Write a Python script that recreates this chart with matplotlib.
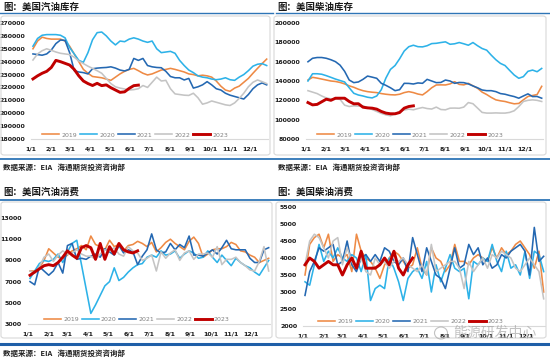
import numpy as np
import matplotlib
matplotlib.use("Agg")
import matplotlib.pyplot as plt
from matplotlib.patches import FancyBboxPatch, Ellipse
from matplotlib.lines import Line2D

# ---------------- data ----------------
years = ["2019", "2020", "2021", "2022", "2023"]
colors = ["#EE8A45", "#2DB2E8", "#2468B2", "#C4C4C4", "#C00000"]
month_days = [0, 31, 59, 90, 120, 151, 181, 212, 243, 273, 304, 334]
month_labels = ["1/1", "2/1", "3/1", "4/1", "5/1", "6/1", "7/1", "8/1", "9/1", "10/1", "11/1", "12/1"]

# US gasoline inventory
gas_inv_2019 = [250000, 256000, 259000, 258000, 257500, 257500, 257500, 256000, 252000, 246000, 240000, 234000, 231000,
                228500, 228000, 227500, 226500, 225500, 228000, 230500, 232500, 234000, 234800, 233000, 231000, 229700,
                230500, 232000, 233500, 234000, 234800, 234000, 233000, 232000, 230500, 230000, 229000, 229500, 229000,
                228000, 225000, 221000, 218000, 217000, 219500, 221000, 224000, 227000, 231000, 234800, 238500, 242000]
gas_inv_2020 = [252000, 258000, 260500, 261000, 261000, 261000, 260500, 258500, 251000, 246000, 241000, 239500, 247000,
                257000, 262500, 263000, 260000, 256000, 253000, 256000, 255500, 257500, 258500, 257500, 256000, 255000,
                256000, 250000, 247000, 247500, 248000, 246500, 241000, 237000, 233500, 231500, 229000, 228000, 227500,
                226500, 226000, 226500, 227500, 226000, 225500, 228000, 230000, 233000, 236500, 238000, 238500, 237000]
gas_inv_2021 = [246000, 245500, 245000, 246000, 249000, 254000, 256800, 256500, 247000, 233000, 232000, 231500, 230500,
                234500, 235000, 235300, 235500, 236000, 235000, 233500, 232800, 234000, 242500, 241000, 242500, 237000,
                236000, 235500, 235300, 232500, 228500, 227500, 227500, 225800, 227000, 219500, 220500, 222000, 224500,
                222000, 219000, 218000, 215500, 214000, 213000, 212000, 211000, 214500, 219000, 222000, 223500, 222000]
gas_inv_2022 = [241300, 246000, 248500, 250000, 248800, 247500, 246500, 246000, 245500, 243500, 240500, 238500, 236500,
                234800, 233000, 231000, 227000, 223000, 220500, 219500, 218800, 218000, 218300, 219000, 221500, 220000,
                224000, 228000, 225000, 225500, 219000, 215000, 214500, 214000, 213800, 215500, 212000, 207000, 208000,
                209500, 208500, 207500, 206500, 206000, 208000, 211500, 215500, 220500, 224000, 225800, 224500, 223000]
gas_inv_2023 = [226600, 229000, 231000, 232500, 235500, 241000, 240000, 238700, 237400, 234000, 229000, 225000, 223000,
                221500, 223200, 221400, 222000, 219800, 218000, 216200, 216600, 219300, 221400, 221800]

# US diesel inventory
dsl_inv_2019 = [141000, 143800, 143000, 142000, 141000, 140000, 139500, 138500, 137000, 135000, 133500, 131500, 130000,
                129000, 128400, 128000, 127000, 126300, 125800, 125600, 126300, 128000, 129000, 128000, 126500, 125600,
                129000, 133000, 135900, 136000, 135900, 137000, 139300, 136500, 136000, 137600, 135000, 132500, 128500,
                126000, 123000, 120500, 119500, 118800, 117500, 116400, 116800, 120500, 124000, 125000, 126000, 134500]
dsl_inv_2020 = [140000, 147500, 147500, 147000, 145500, 143800, 142000, 140500, 139000, 133000, 127300, 125500, 124500,
                123200, 122500, 124500, 131000, 143000, 152000, 156000, 163000, 171000, 175500, 177000, 175500, 175300,
                176500, 178700, 179000, 179800, 180500, 178000, 178500, 179800, 178500, 177000, 179800, 176500, 173600,
                171900, 166700, 162000, 158200, 156000, 151000, 146200, 142800, 144500, 150000, 151300, 149600, 153000]
dsl_inv_2021 = [159900, 163500, 164300, 164300, 163500, 162000, 160000, 156400, 150000, 141000, 138300, 139000, 141700,
                145100, 144000, 142800, 137600, 135500, 133000, 130000, 131000, 137600, 137500, 136900, 138000, 137600,
                141700, 140000, 138300, 138500, 141000, 140000, 137600, 138500, 138300, 137000, 134900, 133000, 130700,
                130000, 130000, 129000, 127000, 126300, 125000, 123900, 122200, 124500, 126700, 123900, 124000, 122200]
dsl_inv_2022 = [130000, 128500, 127000, 124500, 122500, 121500, 121500, 121000, 115000, 113600, 114300, 114000, 114300,
                112500, 110500, 108500, 106500, 105000, 104000, 106000, 108500, 110000, 110900, 110200, 111500, 112600,
                111500, 111000, 113000, 110500, 110200, 111900, 112000, 111800, 113000, 117700, 116500, 112000, 107500,
                106800, 106800, 107000, 106800, 106800, 107500, 109200, 113500, 118800, 120000, 120500, 120000, 118800]
dsl_inv_2023 = [117700, 115300, 115800, 118500, 121200, 120000, 122200, 122200, 122200, 118800, 116400, 116500, 112900,
                112200, 111900, 110900, 108500, 106800, 106100, 106100, 107400, 111900, 113600, 114300]

# US gasoline consumption
gas_con_2019 = [8000, 8000, 8300, 9000, 10100, 9700, 9300, 9200, 9500, 9900, 10100, 10400, 10000, 11300, 10500, 10300,
                10000, 10900, 10300, 10500, 9900, 10400, 10500, 10800, 10600, 10300, 10700, 9800, 10200, 10700, 11000,
                10600, 10300, 10000, 10800, 11200, 10600, 9300, 9600, 10000, 10100, 10100, 10300, 10700, 10500, 9900,
                9800, 9500, 9300, 8800, 9000, 9200]
gas_con_2020 = [7300, 8000, 8700, 9000, 8900, 9100, 9600, 8800, 9800, 10600, 10900, 8600, 6300, 4000, 4800, 5700, 6600,
                7000, 8300, 7100, 7400, 7900, 8300, 8600, 8700, 9300, 9500, 9300, 9900, 9500, 9600, 9900, 9200, 9600,
                9900, 9700, 9200, 9300, 9900, 9300, 8800, 9500, 9000, 8500, 9200, 8800, 8500, 8300, 7900, 7600, 8300,
                9000]
gas_con_2021 = [7000, 6700, 8400, 8000, 7600, 8000, 8800, 7800, 10400, 10600, 9100, 9200, 9100, 9400, 9600, 9300, 10100,
                9800, 9500, 10400, 9700, 10000, 9800, 8600, 9400, 10000, 11500, 10000, 9700, 9800, 10600, 10000, 10500,
                10200, 11300, 9500, 9500, 9400, 9700, 10000, 9600, 10200, 10900, 10100, 10000, 10000, 10000, 9200,
                8800, 8800, 10000, 10200]
gas_con_2022 = [8000, 7800, 8400, 9300, 9600, 8900, 9500, 9900, 9600, 9700, 10000, 9600, 9400, 9400, 9100, 9600, 10000,
                9900, 10200, 9600, 9400, 10300, 9900, 9700, 9000, 9200, 9500, 8000, 9800, 9200, 9700, 10000, 9000,
                9700, 9900, 9100, 9600, 9600, 9700, 9300, 10300, 8600, 9100, 9100, 9300, 8800, 8500, 8100, 8000, 8900,
                10300, 8000]
gas_con_2023 = [7600, 7900, 8200, 8500, 8600, 8500, 8800, 9300, 9900, 9500, 9200, 10200, 10400, 10200, 9100, 10600, 9100,
                10300, 9600, 10600, 10000, 9800, 9700, 9900]

# US diesel consumption
dsl_con_2019 = [3500, 4400, 4600, 4700, 4300, 4700, 3900, 4100, 4000, 4100, 3600, 4700, 4200, 4000, 3900, 3700, 3400,
                3800, 4000, 4200, 4100, 3900, 3700, 3800, 4300, 3700, 3500, 4300, 4000, 3900, 3600, 3800, 4400, 3900,
                3900, 3800, 4000, 4100, 4000, 3900, 4300, 4000, 4300, 4100, 4200, 4400, 4500, 4300, 4100, 3700, 4200,
                3000]
dsl_con_2020 = [3300, 3200, 3800, 4400, 3900, 4200, 4000, 4300, 4000, 3900, 4100, 4000, 3600, 4100, 2750, 3100, 3200,
                3100, 4000, 3700, 3300, 2750, 3400, 3600, 3700, 3400, 3900, 3000, 3800, 3300, 3700, 4100, 3700, 3600,
                3700, 2800, 3900, 3800, 4000, 3900, 4400, 3900, 3600, 4200, 3700, 3800, 3500, 4200, 3400, 4200, 4100,
                3600]
dsl_con_2021 = [2900, 3600, 3900, 4300, 4200, 4300, 4400, 3800, 3900, 4500, 3800, 3600, 4000, 4100, 3900, 4100, 3900,
                4300, 4200, 3900, 3800, 4000, 3600, 4600, 4100, 3600, 4300, 3900, 3500, 3400, 3100, 3700, 4300, 3700,
                3800, 4400, 4100, 4300, 3800, 4000, 3700, 3800, 4100, 4000, 4200, 4300, 4400, 4200, 3500, 4900, 3900,
                4050]
dsl_con_2022 = [3800, 4500, 4700, 4600, 4300, 4000, 4500, 4600, 3800, 4300, 3900, 3700, 4000, 3600, 3500, 4000, 3800,
                3900, 3700, 3900, 3900, 4000, 3800, 3700, 3600, 3800, 3500, 4400, 3600, 3700, 3800, 3900, 3900, 3700,
                3100, 3900, 3600, 3800, 4000, 3700, 4100, 4000, 4200, 4100, 4000, 3700, 3600, 3800, 4000, 3800, 3600,
                2800]
dsl_con_2023 = [3800, 4000, 3900, 3700, 3800, 3900, 3800, 3800, 3500, 3800, 4000, 3700, 4200, 3700, 3700, 3700, 3800,
                4000, 3800, 4200, 3700, 3500, 3800, 4000]

panels = [
    dict(title="图：美国汽油库存", series=[gas_inv_2019, gas_inv_2020, gas_inv_2021, gas_inv_2022, gas_inv_2023],
         ylim=(180000, 270000), yticks=list(range(180000, 270001, 10000)),
         box=(31, 23, 237, 116), legx=0.44, legy=0.035),
    dict(title="图：美国柴油库存", series=[dsl_inv_2019, dsl_inv_2020, dsl_inv_2021, dsl_inv_2022, dsl_inv_2023],
         ylim=(80000, 200000), yticks=list(range(80000, 200001, 20000)),
         box=(306, 23, 237, 116), legx=0.44, legy=0.035),
    dict(title="图：美国汽油消费", series=[gas_con_2019, gas_con_2020, gas_con_2021, gas_con_2022, gas_con_2023],
         ylim=(3000, 13000), yticks=list(range(3000, 13001, 2000)),
         box=(28, 218, 242, 106), legx=0.45, legy=0.047),
    dict(title="图：美国柴油消费", series=[dsl_con_2019, dsl_con_2020, dsl_con_2021, dsl_con_2022, dsl_con_2023],
         ylim=(2000, 5500), yticks=list(range(2000, 5501, 500)),
         box=(303, 207, 242, 119), legx=0.446, legy=0.042),
]

W, H = 550, 359
fig = plt.figure(figsize=(W / 100, H / 100), dpi=100)
fig.patch.set_facecolor("white")
CJK = ["Noto Sans CJK SC", "DejaVu Sans"]

def fx(x):
    return x / W

def fy(y):
    return 1 - y / H

# decorations: grey rounded boxes
for (x0, y0, x1, y1) in [(1, 16, 270, 155), (274, 16, 546, 155), (1, 202, 272, 338), (276, 202, 546, 338)]:
    fig.patches.append(FancyBboxPatch((fx(x0), fy(y1)), fx(x1 - x0), (y1 - y0) / H,
                                      boxstyle="round,pad=0,rounding_size=0.006", transform=fig.transFigure,
                                      fill=False, edgecolor="#D9D9D9", linewidth=0.8))

# blue rules
for (x0, x1, y, lw, c) in [(0, 273, 13, 1.0, "#2E75B6"), (276, 550, 13, 1.0, "#2E75B6"),
                           (0, 550, 159.5, 1.3, "#2E75B6"), (0, 550, 199.5, 1.3, "#2E75B6"),
                           (0, 550, 344, 2.2, "#1F5FA8")]:
    fig.add_artist(Line2D([fx(x0), fx(x1)], [fy(y), fy(y)], transform=fig.transFigure, color=c, lw=lw))

# titles & sources
for (x, y, t) in [(3, 7, panels[0]["title"]), (277, 7, panels[1]["title"]),
                  (3, 192, panels[2]["title"]), (277, 192, panels[3]["title"])]:
    fig.text(fx(x), fy(y), t, family=CJK, fontsize=6.8, fontweight="bold", color="#1a1a1a", va="center", ha="left")
for (x, y) in [(3, 167), (278, 167), (3, 353)]:
    fig.text(fx(x), fy(y), "数据来源：EIA   海通期货投资咨询部", family=CJK, fontsize=5.4, fontweight="bold",
             color="#222222", va="center", ha="left")

for p in panels:
    l, t, w, h = p["box"]
    ax = fig.add_axes([fx(l), fy(t + h), w / W, h / H])
    for i, (yr, vals) in enumerate(zip(years, p["series"])):
        days = 3 + 7 * np.arange(len(vals))
        lw = 2.1 if yr == "2023" else 1.15
        ax.plot(days, vals, color=colors[i], lw=lw, label=yr, zorder=3 + (1 if yr == "2023" else 0),
                solid_joinstyle="round")
    ax.set_xlim(0, 362)
    ax.set_ylim(*p["ylim"])
    ax.set_yticks(p["yticks"])
    ax.set_yticklabels([str(v) for v in p["yticks"]])
    ax.set_xticks(month_days)
    ax.set_xticklabels(month_labels)
    for s in ["top", "right", "left"]:
        ax.spines[s].set_visible(False)
    ax.spines["bottom"].set_color("#D9D9D9")
    ax.spines["bottom"].set_linewidth(0.8)
    ax.tick_params(axis="both", length=0, labelsize=4.5, colors="#1a1a1a")
    ax.tick_params(axis="y", pad=4.2)
    ax.tick_params(axis="x", pad=5.5)
    for lab in ax.get_xticklabels() + ax.get_yticklabels():
        lab.set_fontweight("bold")
    ax.patch.set_alpha(0)
    leg = ax.legend(ncol=5, loc="center", bbox_to_anchor=(p["legx"], p["legy"]), frameon=False,
                    fontsize=4.5, handlelength=2.7, handletextpad=0.35, columnspacing=0.45, borderaxespad=0)
    for txt in leg.get_texts():
        txt.set_color("#808080")

# watermark (overlaps the tick labels in the original as well)
fig.text(fx(495), fy(333), "能源研发中心", family=CJK, fontsize=10, color="#9a9a9a", alpha=0.6,
         va="center", ha="center")
fig.patches.append(Ellipse((fx(441), fy(333)), 13 / W, 12 / H, transform=fig.transFigure, fill=False,
                           edgecolor="#9a9a9a", lw=0.8, alpha=0.6))

fig.savefig("out.png", dpi=100, facecolor="white")
